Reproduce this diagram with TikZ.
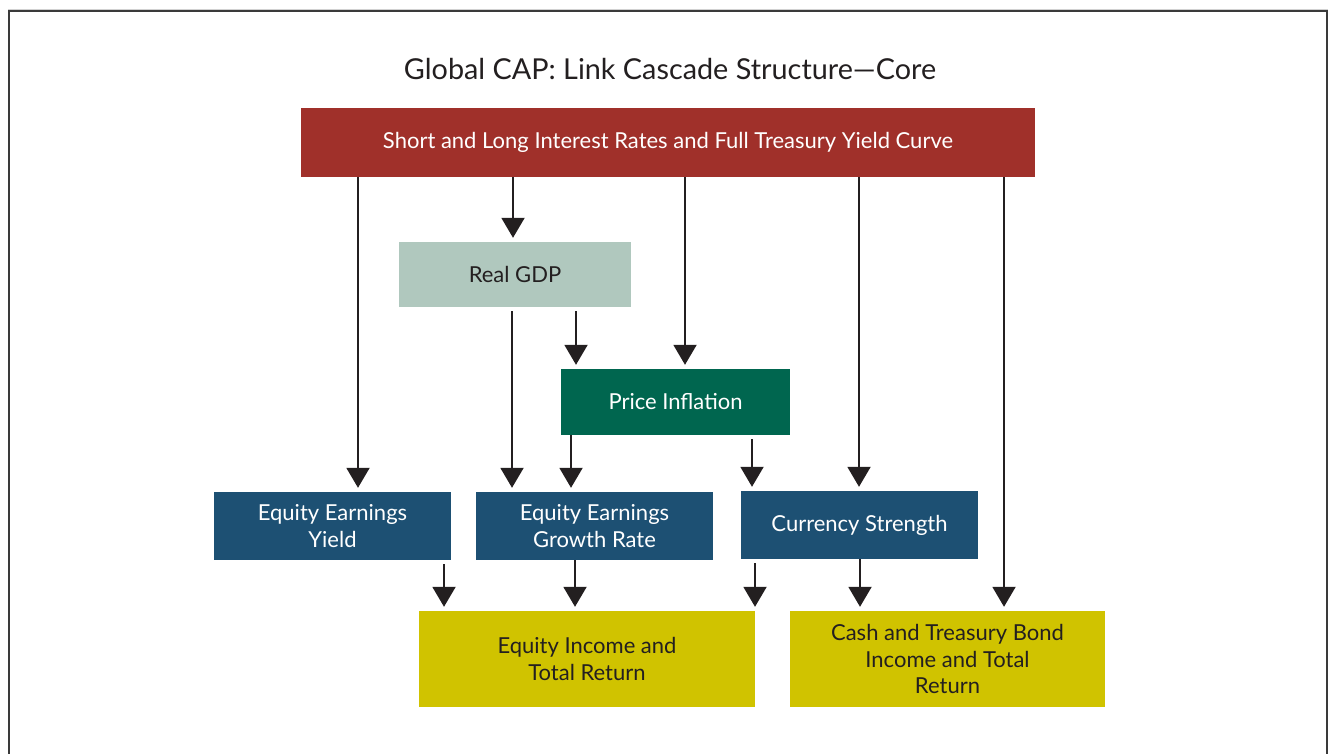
\documentclass[tikz,border=0pt]{standalone}
\usepackage{fontspec}
\setmainfont{Lato}
\usepackage{tikz}
\usetikzlibrary{arrows.meta}
\definecolor{RateRed}{HTML}{A0302A}
\definecolor{GdpSage}{HTML}{B0C8BE}
\definecolor{InflGreen}{HTML}{00664F}
\definecolor{EqBlue}{HTML}{1D5073}
\definecolor{ReturnGold}{HTML}{D0C300}
\definecolor{InkDark}{HTML}{231F20}
\definecolor{FrameGray}{HTML}{3A3A3A}

\tikzset{
  box/.style={rectangle, inner sep=0pt, align=center, font=\fontsize{22}{26.5}\selectfont},
  arr/.style={InkDark, line width=2pt, -{Triangle[width=23pt,length=20pt]}, shorten >=4pt},
  gap/.style={shorten <=4pt}
}

\begin{document}
\begin{tikzpicture}[x=1pt, y=-1pt]
      \useasboundingbox (0,0) rectangle (1329,753);
      % Frame
      \draw[black!18, line width=1pt] (8,9) -- (1328,9);
      \draw[FrameGray, line width=1.5pt] (9,760) -- (9,11) -- (1327,11) -- (1327,760);
      \node[font=\fontsize{28.8}{32}\selectfont, text=InkDark] (title) at (670,69) {Global CAP: Link Cascade Structure---Core};
      % Boxes
      \node[box, fill=RateRed, text=white, minimum width=734pt, minimum height=69pt] (rates) at (668,142.5) {Short and Long Interest Rates and Full Treasury Yield Curve};
      \node[box, fill=GdpSage, text=InkDark, minimum width=232pt, minimum height=65pt] (gdp) at (515,274.5) {Real GDP};
      \node[box, fill=InflGreen, text=white, minimum width=229pt, minimum height=66pt] (infl) at (675.5,402) {Price Inflation};
      \node[box, fill=EqBlue, text=white, minimum width=237pt, minimum height=68pt] (eyield) at (332.5,526) {Equity Earnings\\Yield};
      \node[box, fill=EqBlue, text=white, minimum width=237pt, minimum height=68pt] (egrowth) at (594.5,526) {Equity Earnings\\Growth Rate};
      \node[box, fill=EqBlue, text=white, minimum width=237pt, minimum height=68pt] (fx) at (859.5,525) {Currency Strength};
      \node[box, fill=ReturnGold, text=InkDark, minimum width=336pt, minimum height=96pt] (eqret) at (587,659) {Equity Income and\\Total Return};
      \node[box, fill=ReturnGold, text=InkDark, minimum width=315pt, minimum height=96pt] (cashret) at (947.5,659) {Cash and Treasury Bond\\Income and Total\\Return};
      % Links from rates
      \draw[arr] (rates.south -| 358,0) -- (eyield.north -| 358,0);
      \draw[arr] (rates.south -| 513,0) -- (gdp.north -| 513,0);
      \draw[arr] (rates.south -| 685,0) -- (infl.north -| 685,0);
      \draw[arr] (rates.south -| 859,0) -- (fx.north -| 859,0);
      \draw[arr] (rates.south -| 1004,0) -- (cashret.north -| 1004,0);
      % Links from GDP and inflation
      \draw[arr, gap] (gdp.south -| 512,0) -- (egrowth.north -| 512,0);
      \draw[arr, gap] (gdp.south -| 576,0) -- (infl.north -| 576,0);
      \draw[arr] (infl.south -| 571,0) -- (egrowth.north -| 571,0);
      \draw[arr, gap] (infl.south -| 752,0) -- (fx.north -| 752,0);
      % Links to returns
      \draw[arr, gap] (eyield.south -| 444,0) -- (eqret.north -| 444,0);
      \draw[arr] (egrowth.south -| 575,0) -- (eqret.north -| 575,0);
      \draw[arr, gap] (fx.south -| 755,0) -- (eqret.north -| 755,0);
      \draw[arr] (fx.south -| 860,0) -- (cashret.north -| 860,0);
    \end{tikzpicture}
\end{document}
